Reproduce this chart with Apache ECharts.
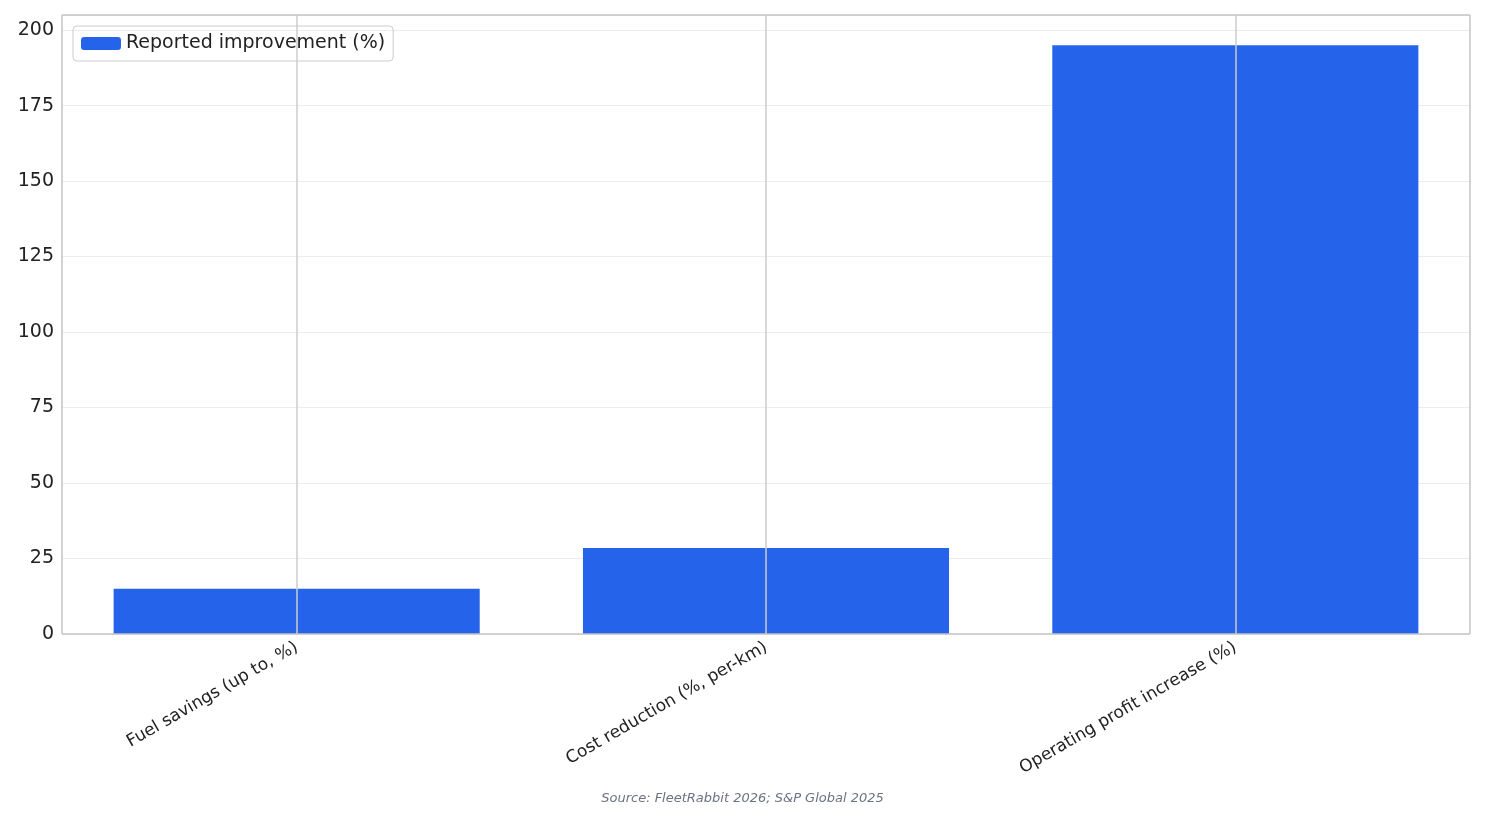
<!DOCTYPE html>
<html>
<head>
<meta charset="utf-8">
<script src="https://cdn.jsdelivr.net/npm/echarts@6/dist/echarts.min.js"></script>
<style>html,body{margin:0;padding:0;background:#fff}#chart{width:1485px;height:824px}</style>
</head>
<body>
<div id="chart"></div>
<script>
const categories = ['Fuel savings (up to, %)', 'Cost reduction (%, per-km)', 'Operating profit increase (%)']
const improvement = [15, 28.5, 195]
const seriesName = 'Reported improvement (%)'
const sourceText = 'Source: FleetRabbit 2026; S&P Global 2025'

const chart = echarts.init(document.getElementById('chart'))
chart.setOption({
  animation: false,
  textStyle: { fontFamily: 'DejaVu Sans' },
  title: {
    text: sourceText,
    left: 'center',
    bottom: 14,
    textStyle: { fontSize: 13, fontStyle: 'italic', fontWeight: 'normal', color: '#6b7280' },
  },
  legend: {
    left: 73, top: 26,
    itemWidth: 40, itemHeight: 13,
    padding: [8, 8, 8, 8],
    borderColor: '#ccc', borderWidth: 1, borderRadius: 4,
    textStyle: { fontSize: 19, color: '#222' },
    data: [seriesName],
  },
  grid: { left: 62, right: 15, top: 15, bottom: 190, containLabel: false },
  xAxis: {
    type: 'category',
    data: categories,
    axisLine: { show: false },
    axisTick: { show: false },
    axisLabel: { rotate: 30, fontSize: 17, color: '#222', margin: 12 },
  },
  yAxis: {
    type: 'value',
    min: 0, max: 205, interval: 25,
    axisLabel: { fontSize: 19, color: '#222', showMaxLabel: false },
    splitLine: { lineStyle: { color: '#ececec' } },
  },
  series: [
    {
      type: 'line', data: [], z: 1, silent: true,
      markLine: {
        silent: true, symbol: 'none', label: { show: false },
        lineStyle: { color: '#cccccc', type: 'solid', width: 1.5 },
        data: categories.map(c => ({ xAxis: c })),
      },
    },
    {
      name: seriesName, type: 'bar', data: improvement, z: 3,
      barWidth: '78%', itemStyle: { color: '#2563eb' },
    },
    {
      type: 'line', data: [], silent: true,
      markLine: {
        silent: true, symbol: 'none', label: { show: false },
        lineStyle: { color: '#c4c4c4', type: 'solid', width: 1.5 },
        data: [[{ x: 62, y: 15 }, { x: 1470, y: 15 }], [{ x: 1470, y: 15 }, { x: 1470, y: 634 }],
               [{ x: 62, y: 634 }, { x: 1470, y: 634 }], [{ x: 62, y: 15 }, { x: 62, y: 634 }]],
      },
    },
  ],
})
</script>
</body>
</html>
